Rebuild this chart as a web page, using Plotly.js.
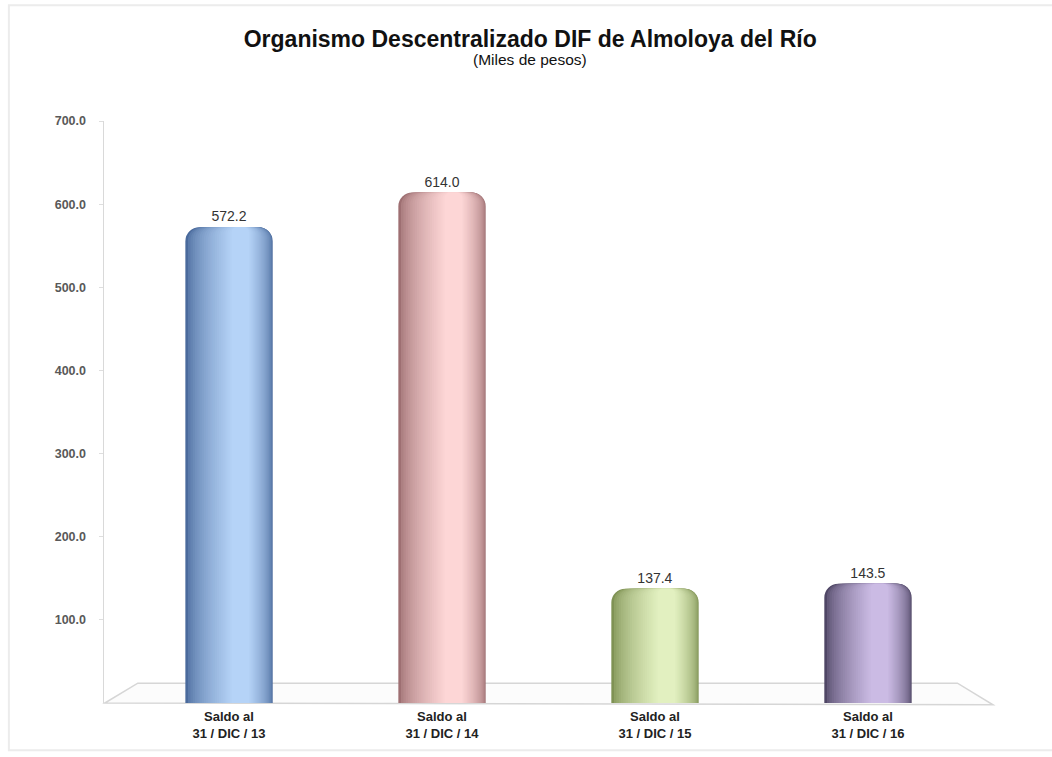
<!DOCTYPE html>
<html>
<head>
<meta charset="utf-8">
<script src="https://cdn.plot.ly/plotly-3.0.1.min.js"></script>
<style>html,body{margin:0;padding:0;background:#fff;}</style>
</head>
<body>
<div id="chart" style="width:1052px;height:757px;"></div>
<script>
// ---- data ----
const categories = ["Saldo al<br>31 / DIC / 13", "Saldo al<br>31 / DIC / 14", "Saldo al<br>31 / DIC / 15", "Saldo al<br>31 / DIC / 16"];
const values = [572.2, 614.0, 137.4, 143.5];
const yTicks = [100, 200, 300, 400, 500, 600, 700];
const yTickLabels = ["100.0", "200.0", "300.0", "400.0", "500.0", "600.0", "700.0"];
const chartTitle = "Organismo Descentralizado DIF de Almoloya del Río";
const chartSubtitle = "(Miles de pesos)";

// ---- style: cylinder shading (dark edge -> light highlight) ----
const darkColors  = ["#4a6a9c", "#9e6f72", "#7f9254", "#4f4665"];
const lightColors = ["#b5d3f7", "#fdd6d6", "#e2f0c0", "#cbbbe4"];

function hex2rgb(h){return [parseInt(h.slice(1,3),16),parseInt(h.slice(3,5),16),parseInt(h.slice(5,7),16)];}
function mix(a,b,t){const A=hex2rgb(a),B=hex2rgb(b);return 'rgb('+A.map((v,i)=>Math.round(v+(B[i]-v)*t)).join(',')+')';}

const W = 0.41;
const N = 22;
const traces = [];
for (let k = 0; k < N; k++) {
  const t = k / (N - 1);
  const w = W * (1 - 0.8 * t);
  const c = W * 0.13 * Math.pow(t, 0.8);
  const tr = {
    type: 'bar',
    x: categories,
    y: values,
    width: categories.map(() => w),
    offset: categories.map(() => c - w / 2),
    marker: {
      color: categories.map((_, i) => mix(darkColors[i], lightColors[i], Math.pow(t, 0.6))),
      cornerradius: Math.max(4, 14 * (1 - 0.6 * t)),
      line: {width: 0}
    },
    hoverinfo: k === 0 ? 'x+y' : 'skip',
    showlegend: false
  };
  if (k === 0) {
    tr.text = values.map(v => v.toFixed(1));
    tr.textposition = 'outside';
    tr.textfont = {family: 'Liberation Sans, Arial, sans-serif', size: 14, color: '#333333'};
    tr.cliponaxis = false;
  }
  traces.push(tr);
}

const layout = {
  width: 1052,
  height: 757,
  margin: {l: 104, r: 59, t: 121, b: 54},
  paper_bgcolor: '#ffffff',
  plot_bgcolor: 'rgba(0,0,0,0)',
  barmode: 'overlay',
  font: {family: 'Liberation Sans, Arial, sans-serif'},
  title: {
    text: '<b>' + chartTitle + '</b>',
    font: {family: 'Liberation Sans, Arial, sans-serif', size: 23, color: '#111111'},
    x: 0.504, xanchor: 'center',
    y: 0.959, yanchor: 'top'
  },
  annotations: [
    {text: chartSubtitle, xref: 'paper', yref: 'paper', x: 0.479, y: 1.0 + (121 - 60) / 582,
     xanchor: 'center', yanchor: 'middle', showarrow: false,
     font: {family: 'Liberation Sans, Arial, sans-serif', size: 15.5, color: '#111111'}}
  ],
  xaxis: {
    type: 'category',
    range: [-0.587, 3.587],
    showline: false,
    showgrid: false,
    zeroline: false,
    ticks: '',
    ticklabelstandoff: 4,
    tickfont: {family: 'Liberation Sans Narrow, Liberation Sans, Arial, sans-serif', size: 13, color: '#222222', weight: 'bold'}
  },
  yaxis: {
    range: [0, 700],
    tickvals: yTicks,
    ticktext: yTickLabels,
    showgrid: false,
    zeroline: false,
    showline: true,
    linecolor: '#d9d9d9',
    linewidth: 1.5,
    ticks: 'outside',
    ticklen: 4,
    tickcolor: '#dedede',
    ticklabelstandoff: 10,
    tickfont: {family: 'Liberation Sans, Arial, sans-serif', size: 12.5, color: '#595959', weight: 'bold'}
  },
  shapes: [
    {type: 'path', xref: 'paper', yref: 'paper', layer: 'below',
     path: 'M 0.001 0 L 0.038 0.034 L 0.96 0.034 L 1 -0.003 Z',
     line: {color: '#d6d6d6', width: 1.5}, fillcolor: 'rgba(250,250,250,0.6)'},
    {type: 'rect', xref: 'paper', yref: 'paper', layer: 'below',
     x0: -0.107, x1: 1.07, y0: -0.081, y1: 1.199,
     line: {color: '#ececec', width: 2}}
  ]
};

Plotly.newPlot('chart', traces, layout, {displayModeBar: false, staticPlot: true});
</script>
</body>
</html>
